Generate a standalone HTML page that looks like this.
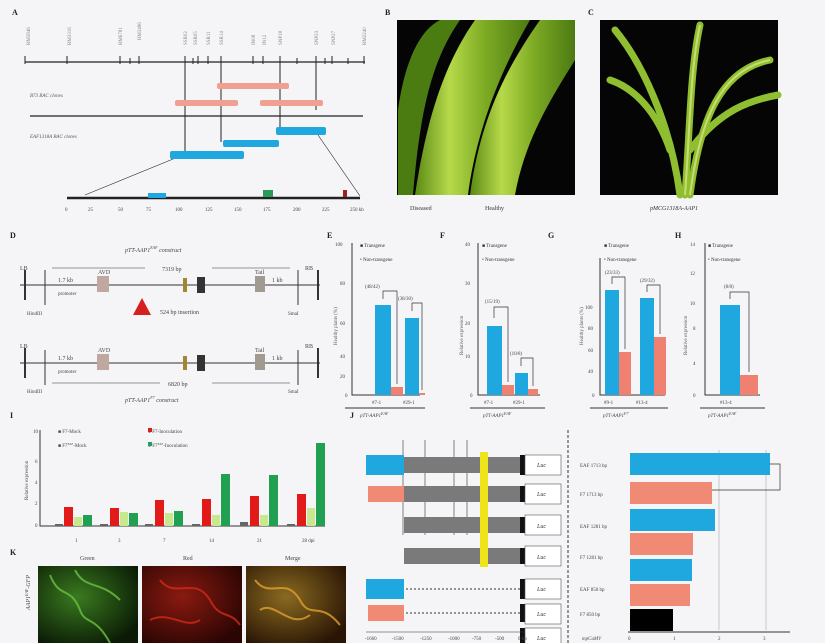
<!DOCTYPE html>
<html><head><meta charset="utf-8"><style>
html,body{margin:0;padding:0;background:#f5f5f7;}
svg{display:block;font-family:"Liberation Serif",serif;}
</style></head><body>
<svg width="825" height="643" viewBox="0 0 825 643" xmlns="http://www.w3.org/2000/svg">
<defs>
<linearGradient id="leaf1" x1="0" x2="1" y1="0" y2="0">
<stop offset="0" stop-color="#5a8a15"/><stop offset="0.3" stop-color="#b7d94a"/><stop offset="0.6" stop-color="#7eac24"/><stop offset="1" stop-color="#4c7a12"/></linearGradient>
<radialGradient id="kg" cx="0.4" cy="0.4" r="0.7"><stop offset="0" stop-color="#3a7a20"/><stop offset="1" stop-color="#0a1a05"/></radialGradient>
<radialGradient id="kr" cx="0.4" cy="0.4" r="0.7"><stop offset="0" stop-color="#8a1a10"/><stop offset="1" stop-color="#2a0503"/></radialGradient>
<radialGradient id="km" cx="0.4" cy="0.4" r="0.7"><stop offset="0" stop-color="#8a6a20"/><stop offset="1" stop-color="#2a1505"/></radialGradient>
</defs>
<rect width="825" height="643" fill="#f5f5f7"/>
<g font-size="8" font-weight="bold" fill="#222">
<text x="12" y="15">A</text><text x="385" y="15">B</text><text x="588" y="15">C</text>
<text x="10" y="238">D</text><text x="327" y="238">E</text><text x="440" y="238">F</text><text x="548" y="238">G</text><text x="675" y="238">H</text>
<text x="10" y="418">I</text><text x="350" y="418">J</text><text x="10" y="555">K</text>
</g>
<!-- Panel A -->
<g stroke="#222" stroke-width="1.3">
<line x1="25" y1="62" x2="365" y2="62"/>
<g stroke-width="1">
<line x1="25" y1="56" x2="25" y2="64"/><line x1="67" y1="56" x2="67" y2="64"/><line x1="120" y1="56" x2="120" y2="64"/><line x1="130" y1="58" x2="130" y2="64"/><line x1="139" y1="56" x2="139" y2="64"/><line x1="185" y1="56" x2="185" y2="64"/><line x1="193" y1="58" x2="193" y2="64"/><line x1="198" y1="56" x2="198" y2="64"/><line x1="208" y1="56" x2="208" y2="64"/><line x1="221" y1="56" x2="221" y2="64"/><line x1="253" y1="56" x2="253" y2="64"/><line x1="263" y1="56" x2="263" y2="64"/><line x1="280" y1="56" x2="280" y2="64"/><line x1="297" y1="58" x2="297" y2="64"/><line x1="316" y1="56" x2="316" y2="64"/><line x1="325" y1="58" x2="325" y2="64"/><line x1="332" y1="56" x2="332" y2="64"/><line x1="348" y1="58" x2="348" y2="64"/><line x1="364" y1="56" x2="364" y2="64"/>
<line x1="185" y1="62" x2="185" y2="155"/><line x1="221" y1="62" x2="221" y2="142"/><line x1="280" y1="62" x2="280" y2="128"/><line x1="316" y1="62" x2="316" y2="110"/>
</g>
<line x1="30" y1="116" x2="363" y2="116"/>
<line x1="67" y1="198" x2="360" y2="198" stroke-width="2.5"/>
<line x1="178" y1="157" x2="85" y2="195" stroke-width="0.6"/><line x1="318" y1="135" x2="360" y2="196" stroke-width="0.6"/>
</g>
<g fill="#888" font-size="5">
<text x="30" y="45" transform="rotate(-90 30 45)">RM5846</text><text x="71" y="45" transform="rotate(-90 71 45)">RM3316</text><text x="122" y="45" transform="rotate(-90 122 45)">RM6781</text><text x="141" y="40" transform="rotate(-90 141 40)">RM3486</text><text x="187" y="45" transform="rotate(-90 187 45)">SSR02</text><text x="197" y="45" transform="rotate(-90 197 45)">SSR05</text><text x="210" y="45" transform="rotate(-90 210 45)">SSR11</text><text x="223" y="45" transform="rotate(-90 223 45)">SSR14</text><text x="255" y="45" transform="rotate(-90 255 45)">IN08</text><text x="266" y="45" transform="rotate(-90 266 45)">IN12</text><text x="282" y="45" transform="rotate(-90 282 45)">SNP18</text><text x="318" y="45" transform="rotate(-90 318 45)">SNP23</text><text x="335" y="45" transform="rotate(-90 335 45)">SNP27</text><text x="366" y="45" transform="rotate(-90 366 45)">RM2240</text>
</g>
<g font-size="5" fill="#555" font-style="italic"><text x="30" y="97">B73 BAC clones</text><text x="30" y="138">EAF1318A BAC clones</text></g>
<g fill="#f0a090"><rect x="217" y="83" width="72" height="6" rx="2"/><rect x="175" y="100" width="63" height="6" rx="2"/><rect x="260" y="100" width="63" height="6" rx="2"/></g>
<g fill="#1fa8e0"><rect x="276" y="127" width="50" height="8" rx="2"/><rect x="223" y="140" width="56" height="7" rx="2"/><rect x="170" y="151" width="74" height="8" rx="2"/></g>
<rect x="148" y="193" width="18" height="5" fill="#1fa8e0"/><rect x="263" y="190" width="10" height="7" fill="#2a9a5a"/><rect x="343" y="190" width="4" height="7" fill="#a02020"/>
<g font-size="5" fill="#444"><text x="65" y="211">0</text><text x="88" y="211">25</text><text x="118" y="211">50</text><text x="146" y="211">75</text><text x="175" y="211">100</text><text x="205" y="211">125</text><text x="234" y="211">150</text><text x="263" y="211">175</text><text x="293" y="211">200</text><text x="322" y="211">225</text><text x="350" y="211">250 kb</text></g>
<!-- Panel B -->
<rect x="397" y="20" width="178" height="175" fill="#050505"/>
<path d="M415 195 C425 130 440 70 475 20 L530 20 C495 80 475 140 468 195 Z" fill="url(#leaf1)"/>
<path d="M470 195 C480 120 505 70 540 20 L575 20 L575 60 C550 100 525 140 515 195 Z" fill="url(#leaf1)"/>
<path d="M398 110 C405 60 420 30 440 20 L460 20 C432 60 420 110 413 195 L398 195Z" fill="#4a7c12"/>
<text x="410" y="210" font-size="6" fill="#333">Diseased</text><text x="485" y="210" font-size="6" fill="#333">Healthy</text>
<!-- Panel C -->
<rect x="600" y="20" width="178" height="175" fill="#050505"/>
<g fill="none" stroke="#8fbf30" stroke-width="7" stroke-linecap="round">
<path d="M680 195 C670 120 640 60 615 30"/><path d="M690 195 C700 120 720 70 770 60"/><path d="M685 195 C690 130 690 70 700 25"/><path d="M690 150 C720 110 750 100 778 95"/><path d="M670 150 C660 120 640 90 610 80"/>
</g>
<g fill="none" stroke="#c8dc70" stroke-width="2"><path d="M685 195 C690 130 690 70 700 25"/><path d="M690 195 C700 120 720 70 770 60"/></g>
<text x="650" y="210" font-size="6" fill="#333" font-style="italic">pMCG1318A-AAP1</text>
<!-- Panel D -->
<g stroke="#333" stroke-width="1">
<line x1="20" y1="285" x2="320" y2="285"/><line x1="20" y1="363" x2="320" y2="363"/>
<line x1="25" y1="270" x2="25" y2="300" stroke-width="2"/><line x1="318" y1="270" x2="318" y2="300" stroke-width="2"/>
<line x1="25" y1="348" x2="25" y2="378" stroke-width="2"/><line x1="318" y1="348" x2="318" y2="378" stroke-width="2"/>
<line x1="45" y1="270" x2="45" y2="305"/><line x1="298" y1="270" x2="298" y2="305"/><line x1="45" y1="350" x2="45" y2="385"/><line x1="298" y1="350" x2="298" y2="385"/>
<line x1="52" y1="268" x2="145" y2="268" stroke-width="0.6"/><line x1="212" y1="268" x2="290" y2="268" stroke-width="0.6"/>
<line x1="52" y1="383" x2="160" y2="383" stroke-width="0.6"/><line x1="212" y1="383" x2="290" y2="383" stroke-width="0.6"/>
</g>
<g fill="#c0a8a0"><rect x="97" y="276" width="12" height="16"/><rect x="97" y="354" width="12" height="16"/><rect x="255" y="276" width="10" height="16" fill="#a09a90"/><rect x="255" y="354" width="10" height="16" fill="#a09a90"/></g>
<g fill="#a08830"><rect x="183" y="278" width="4" height="14"/><rect x="183" y="356" width="4" height="14"/></g>
<g fill="#333"><rect x="197" y="277" width="8" height="16"/><rect x="197" y="355" width="8" height="16"/></g>
<polygon points="133,315 142,298 151,315" fill="#d62020"/>
<g font-size="6" fill="#444">
<text x="125" y="252" font-style="italic">pTT-AAP1<tspan font-size="4" dy="-3">EAF</tspan><tspan dy="3"> construct</tspan></text>
<text x="20" y="270">LB</text><text x="305" y="270">RB</text><text x="20" y="348">LB</text><text x="305" y="348">RB</text>
<text x="98" y="274">AVD</text><text x="255" y="274">Tail</text><text x="98" y="352">AVD</text><text x="255" y="352">Tail</text>
<text x="58" y="282">1.7 kb</text><text x="58" y="295" font-size="5">promoter</text><text x="58" y="360">1.7 kb</text><text x="58" y="373" font-size="5">promoter</text>
<text x="272" y="282">1 kb</text><text x="272" y="360">1 kb</text>
<text x="160" y="314">524 bp insertion</text>
<text x="162" y="271">7319 bp</text><text x="168" y="386">6820 bp</text>
<text x="27" y="315" font-size="5">HindIII</text><text x="288" y="315" font-size="5">SmaI</text><text x="27" y="393" font-size="5">HindIII</text><text x="288" y="393" font-size="5">SmaI</text>
<text x="125" y="402" font-style="italic">pTT-AAP1<tspan font-size="4" dy="-3">F7</tspan><tspan dy="3"> construct</tspan></text>
</g>
<!-- Panels E-H axes -->
<g stroke="#333" stroke-width="1" fill="none">
<path d="M352 243 V395 H420"/><path d="M478 243 V395 H540"/><path d="M600 258 V395 H665"/><path d="M705 243 V395 H760"/>
<line x1="345" y1="408" x2="425" y2="408"/><line x1="470" y1="408" x2="545" y2="408"/><line x1="590" y1="408" x2="668" y2="408"/><line x1="700" y1="408" x2="765" y2="408"/>
</g>
<g fill="#1fa8e0"><rect x="375" y="305" width="16" height="90"/><rect x="405" y="318" width="14" height="77"/>
<rect x="487" y="326" width="15" height="69"/><rect x="515" y="373" width="13" height="22"/>
<rect x="605" y="290" width="14" height="105"/><rect x="640" y="298" width="14" height="97"/>
<rect x="720" y="305" width="20" height="90"/></g>
<g fill="#f08070"><rect x="391" y="387" width="12" height="8"/><rect x="419" y="393" width="6" height="2"/>
<rect x="502" y="385" width="12" height="10"/><rect x="528" y="389" width="10" height="6"/>
<rect x="619" y="352" width="12" height="43"/><rect x="654" y="337" width="12" height="58"/>
<rect x="740" y="375" width="18" height="20"/></g>
<g stroke="#333" stroke-width="0.7" fill="none">
<path d="M383 299 V291 H397 V384"/><path d="M412 311 V303 H422 V390"/><path d="M494 318 V307 H508 V382"/><path d="M521 366 V358 H533 V386"/><path d="M612 284 V277 H625 V349"/><path d="M647 292 V285 H660 V334"/><path d="M730 299 V292 H749 V372"/>
</g>
<g font-size="5" fill="#444">
<text x="335" y="246">100</text><text x="340" y="285">80</text><text x="340" y="325">60</text><text x="340" y="358">40</text><text x="340" y="378">20</text><text x="345" y="397">0</text>
<text x="465" y="246">40</text><text x="465" y="285">30</text><text x="465" y="325">20</text><text x="465" y="358">10</text><text x="470" y="397">0</text>
<text x="585" y="309">100</text><text x="588" y="330">80</text><text x="588" y="352">60</text><text x="588" y="373">40</text><text x="592" y="397">0</text>
<text x="690" y="246">14</text><text x="690" y="275">12</text><text x="690" y="305">10</text><text x="693" y="330">8</text><text x="693" y="365">4</text><text x="693" y="397">0</text>
<text x="372" y="404">#7-1</text><text x="403" y="404">#29-1</text><text x="484" y="404">#7-1</text><text x="513" y="404">#29-1</text><text x="604" y="404">#9-1</text><text x="636" y="404">#13-4</text><text x="720" y="404">#13-4</text>
<text x="365" y="288">(48/42)</text><text x="398" y="300">(38/30)</text><text x="485" y="303">(15/19)</text><text x="510" y="355">(10/8)</text><text x="605" y="274">(23/33)</text><text x="640" y="282">(29/32)</text><text x="724" y="288">(8/8)</text>
<g font-style="italic"><text x="360" y="417">pTT-AAP1<tspan font-size="4" dy="-2">EAF</tspan></text><text x="483" y="417">pTT-AAP1<tspan font-size="4" dy="-2">EAF</tspan></text><text x="603" y="417">pTT-AAP1<tspan font-size="4" dy="-2">F7</tspan></text><text x="708" y="417">pTT-AAP1<tspan font-size="4" dy="-2">EAF</tspan></text></g>
<g fill="#333"><text x="360" y="247">■ Transgene</text><text x="360" y="261">• Non-transgene</text><text x="482" y="247">■ Transgene</text><text x="482" y="261">• Non-transgene</text><text x="604" y="247">■ Transgene</text><text x="604" y="261">• Non-transgene</text><text x="708" y="247">■ Transgene</text><text x="708" y="261">• Non-transgene</text></g>
</g>
<g font-size="5" fill="#555"><text transform="translate(337 345) rotate(-90)">Healthy plants (%)</text><text transform="translate(463 355) rotate(-90)">Relative expression</text><text transform="translate(583 345) rotate(-90)">Healthy plants (%)</text><text transform="translate(687 355) rotate(-90)">Relative expression</text></g>
<!-- Panel I -->
<path d="M40 430 V526 H325" stroke="#333" fill="none"/>
<g font-size="5" fill="#444"><text x="33" y="433">10</text><text x="35" y="463">6</text><text x="35" y="484">4</text><text x="35" y="505">2</text><text x="35" y="527">0</text>
<text x="75" y="542">1</text><text x="118" y="542">3</text><text x="163" y="542">7</text><text x="209" y="542">14</text><text x="257" y="542">21</text><text x="302" y="542">28 dpi</text>
<text x="58" y="433">■ F7-Mock</text><text x="148" y="433">● F7-Inoculation</text><text x="58" y="447">■ F7<tspan font-size="3" dy="-2">EAF</tspan><tspan dy="2">-Mock</tspan></text><text x="148" y="447">● F7<tspan font-size="3" dy="-2">EAF</tspan><tspan dy="2">-Inoculation</tspan></text>
<text transform="translate(28 500) rotate(-90)">Relative expression</text></g>
<rect x="148" y="428" width="4" height="4" fill="#d02020"/><rect x="148" y="442" width="4" height="4" fill="#20a060"/>
<g>
<rect x="55" y="524" width="8" height="2" fill="#666"/><rect x="64" y="507" width="9" height="19" fill="#e21a1a"/><rect x="74" y="517" width="8" height="9" fill="#c8e890"/><rect x="83" y="515" width="9" height="11" fill="#20a050"/>
<rect x="100" y="524" width="8" height="2" fill="#666"/><rect x="110" y="508" width="9" height="18" fill="#e21a1a"/><rect x="120" y="512" width="8" height="14" fill="#c8e890"/><rect x="129" y="513" width="9" height="13" fill="#20a050"/>
<rect x="145" y="524" width="8" height="2" fill="#666"/><rect x="155" y="500" width="9" height="26" fill="#e21a1a"/><rect x="165" y="513" width="8" height="13" fill="#c8e890"/><rect x="174" y="511" width="9" height="15" fill="#20a050"/>
<rect x="192" y="524" width="8" height="2" fill="#666"/><rect x="202" y="499" width="9" height="27" fill="#e21a1a"/><rect x="212" y="515" width="8" height="11" fill="#c8e890"/><rect x="221" y="474" width="9" height="52" fill="#20a050"/>
<rect x="240" y="522" width="8" height="4" fill="#666"/><rect x="250" y="496" width="9" height="30" fill="#e21a1a"/><rect x="260" y="515" width="8" height="11" fill="#c8e890"/><rect x="269" y="475" width="9" height="51" fill="#20a050"/>
<rect x="287" y="524" width="8" height="2" fill="#666"/><rect x="297" y="494" width="9" height="32" fill="#e21a1a"/><rect x="307" y="508" width="8" height="18" fill="#c8e890"/><rect x="316" y="443" width="9" height="83" fill="#20a050"/>
</g>
<!-- Panel K -->
<g font-size="6" fill="#444"><text x="80" y="560">Green</text><text x="183" y="560">Red</text><text x="285" y="560">Merge</text>
<text transform="translate(30 610) rotate(-90)" font-style="italic">AAP1<tspan font-size="4" dy="-2">EAF</tspan><tspan dy="2">-GFP</tspan></text></g>
<rect x="38" y="566" width="100" height="77" fill="url(#kg)"/><rect x="142" y="566" width="100" height="77" fill="url(#kr)"/><rect x="246" y="566" width="100" height="77" fill="url(#km)"/>
<g fill="none" stroke-width="2" opacity="0.8">
<path d="M50 575 C60 600 70 585 80 610 C85 625 95 615 110 643 M75 570 C85 590 100 580 120 600" stroke="#6ac040"/>
<path d="M160 580 C175 600 195 575 210 600 C220 620 230 610 240 625 M150 620 C170 610 185 630 200 620" stroke="#d02a18"/>
<path d="M255 580 C270 600 285 575 300 600 C310 620 320 600 340 625 M260 610 C275 600 290 630 310 615" stroke="#e0a030"/>
</g>
<!-- Panel J -->
<line x1="568" y1="430" x2="568" y2="643" stroke="#333" stroke-dasharray="3,2"/>
<g stroke="#333" stroke-width="0.6"><line x1="403" y1="440" x2="403" y2="535"/><line x1="425" y1="440" x2="425" y2="535"/><line x1="454" y1="440" x2="454" y2="535"/><line x1="467" y1="440" x2="467" y2="535"/></g>
<g>
<rect x="366" y="455" width="38" height="20" fill="#1fa8e0"/><rect x="404" y="457" width="120" height="16" fill="#7a7a7a"/>
<rect x="368" y="486" width="36" height="16" fill="#f08a75"/><rect x="404" y="486" width="120" height="16" fill="#7a7a7a"/>
<rect x="404" y="517" width="120" height="16" fill="#7a7a7a"/><rect x="404" y="548" width="120" height="16" fill="#7a7a7a"/>
<rect x="480" y="452" width="8" height="115" fill="#ede51a"/>
<rect x="366" y="579" width="38" height="20" fill="#1fa8e0"/><rect x="368" y="605" width="36" height="16" fill="#f08a75"/>
</g>
<g stroke="#333" stroke-dasharray="2,2"><line x1="406" y1="589" x2="520" y2="589"/><line x1="406" y1="613" x2="520" y2="613"/></g>
<g fill="#111"><rect x="520" y="455" width="5" height="20"/><rect x="520" y="486" width="5" height="16"/><rect x="520" y="517" width="5" height="16"/><rect x="520" y="548" width="5" height="16"/><rect x="520" y="579" width="5" height="20"/><rect x="520" y="604" width="5" height="18"/><rect x="520" y="628" width="5" height="18"/></g>
<g fill="#fff" stroke="#555" stroke-width="0.6"><rect x="525" y="455" width="36" height="20"/><rect x="525" y="484" width="36" height="20"/><rect x="525" y="515" width="36" height="20"/><rect x="525" y="546" width="36" height="20"/><rect x="525" y="579" width="36" height="20"/><rect x="525" y="604" width="36" height="20"/><rect x="525" y="628" width="36" height="20"/></g>
<g font-size="6" fill="#333" font-style="italic"><text x="537" y="467">Luc</text><text x="537" y="496">Luc</text><text x="537" y="528">Luc</text><text x="537" y="559">Luc</text><text x="537" y="591">Luc</text><text x="537" y="616">Luc</text><text x="537" y="640">Luc</text></g>
<g font-size="5" fill="#444"><text x="580" y="467">EAF 1713 bp</text><text x="580" y="496">F7 1713 bp</text><text x="580" y="528">EAF 1281 bp</text><text x="580" y="559">F7 1281 bp</text><text x="580" y="591">EAF 850 bp</text><text x="580" y="616">F7 850 bp</text><text x="582" y="640" font-style="italic">mpCaMV</text></g>
<g stroke="#999" stroke-width="0.5"><line x1="719" y1="450" x2="719" y2="630"/><line x1="766" y1="450" x2="766" y2="630"/></g>
<g><rect x="630" y="453" width="140" height="22" fill="#1fa8e0"/><rect x="630" y="482" width="82" height="22" fill="#f08a75"/><rect x="630" y="509" width="85" height="22" fill="#1fa8e0"/><rect x="630" y="533" width="63" height="22" fill="#f08a75"/><rect x="630" y="559" width="62" height="22" fill="#1fa8e0"/><rect x="630" y="584" width="60" height="22" fill="#f08a75"/><rect x="630" y="609" width="43" height="22" fill="#000"/></g>
<path d="M770 464 H780 V490 H712" stroke="#333" fill="none" stroke-width="0.7"/>
<line x1="628" y1="632" x2="790" y2="632" stroke="#333"/>
<g font-size="5" fill="#444"><text x="628" y="640">0</text><text x="673" y="640">1</text><text x="718" y="640">2</text><text x="763" y="640">3</text>
<text x="365" y="640">-1660</text><text x="392" y="640">-1500</text><text x="420" y="640">-1250</text><text x="448" y="640">-1000</text><text x="472" y="640">-750</text><text x="495" y="640">-500</text><text x="518" y="640">0 bp</text></g>
<line x1="366" y1="632" x2="525" y2="632" stroke="#333" stroke-width="0.6"/>
</svg>
</body></html>
